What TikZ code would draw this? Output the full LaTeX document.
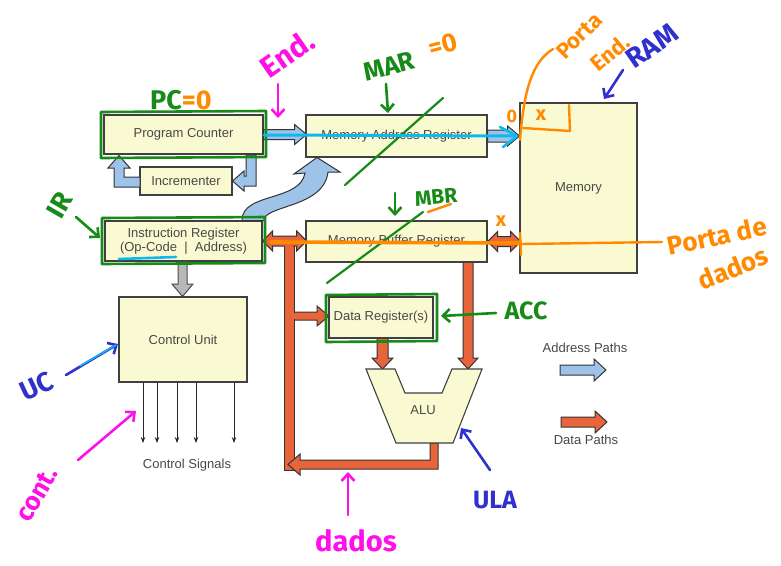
\documentclass[tikz,border=0pt]{standalone}
\usepackage{fontspec}
\setmainfont{Liberation Sans}
\newfontfamily\handfont{Fira Sans}
\usetikzlibrary{arrows.meta,calc}
\definecolor{boxfill}{HTML}{FAFAD2}
\definecolor{addrblue}{HTML}{9DC4E8}
\definecolor{dataorange}{HTML}{E8643A}
\definecolor{txtgray}{HTML}{484848}
\definecolor{agreen}{HTML}{178A17}
\definecolor{aorange}{HTML}{FF8A00}
\definecolor{amag}{HTML}{FF10E8}
\definecolor{ablue}{HTML}{3030CC}
\definecolor{acyan}{HTML}{10B8F0}
\newcommand\hsz[1]{\handfont\bfseries\fontsize{#1}{#1}\selectfont}
\begin{document}
\begin{tikzpicture}[x=1pt,y=-1pt,
  blk/.style={draw=black!75,fill=boxfill,line width=1.1pt,text=txtgray,font=\fontsize{13}{14.5}\selectfont,inner sep=0pt},
  lbl/.style={text=txtgray,font=\fontsize{13}{14.5}\selectfont,inner sep=0pt},
  fatA/.style={draw=black!80,fill=addrblue,line width=1pt,line join=miter},
  fatD/.style={draw=black!80,fill=dataorange,line width=1pt,line join=miter},
  fatG/.style={draw=black!70,fill=black!28,line width=1pt,line join=miter},
  sig/.style={draw=black!85,line width=0.8pt,-{Stealth[length=6pt,width=4.5pt]}},
  hl/.style={line width=2.6pt,line cap=round,line join=round},
  harr/.style={hl,-{Straight Barb[length=7pt,width=13pt]}},
]
\useasboundingbox (0,0) rectangle (781,565);
\fill[white] (0,0) rectangle (781,565);

% ---------- data bus (drawn underneath) ----------
\filldraw[fatD] (289,312) -- (317,312) -- (317,306) -- (329,316) -- (317,326) -- (317,320) -- (289,320) -- cycle;
\filldraw[fatD] (284,241) rectangle (294,470);
\fill[dataorange] (293,312.6) rectangle (295.3,319.4);
\filldraw[fatD] (430,443) -- (438,443) -- (438,469) -- (300,469) -- (300,475) -- (288,464.5) -- (300,454) -- (300,460) -- (430,460) -- cycle;
\filldraw[fatD] (463,262) -- (463,358) -- (458,358) -- (468,369) -- (478,358) -- (473,358) -- (473,262) -- cycle;
\filldraw[fatD] (377,338) -- (377,358) -- (372,358) -- (382.5,369) -- (393,358) -- (388,358) -- (388,338) -- cycle;

% ---------- boxes ----------
\node[blk,minimum width=159,minimum height=39] (pc) at (183.5,134.5) {Program Counter};
\node[blk,minimum width=92,minimum height=28] (inc) at (186,181) {Incrementer};
\node[blk,minimum width=157,minimum height=40,align=center] (ir) at (183.5,241) {Instruction Register\\(Op-Code \;|\; Address)};
\node[blk,minimum width=181,minimum height=42] (mar) at (396.5,136) {Memory Address Register};
\node[blk,minimum width=181,minimum height=41] (mbr) at (396.5,241.5) {Memory Buffer Register};
\node[blk,minimum width=117,minimum height=170] (mem) at (578.5,188) {Memory};
\node[blk,minimum width=128,minimum height=85] (cu) at (183,339.5) {Control Unit};
\node[blk,minimum width=104,minimum height=41] (dr) at (381,317.5) {Data Register(s)};
\filldraw[draw=black!75,fill=boxfill,line width=1.1pt,line join=miter] (366,369) -- (395,369) -- (405,393) -- (442,393) -- (452,369) -- (482,369) -- (453,443) -- (396,443) -- cycle;
\node[lbl] (alu) at (423,410) {ALU};

% ---------- address paths ----------
\filldraw[fatA] (pc.east) ++(0,-5) -- ++(31,0) -- ++(0,-5) -- ++(12,10) -- ++(-12,10) -- ++(0,-5) -- ++(-31,0) -- cycle;
\filldraw[fatA] (mar.east) ++(0,-6) -- ++(20,0) -- ++(0,-4) -- ++(12,10) -- ++(-12,10) -- ++(0,-4) -- ++(-20,0) -- cycle;
\filldraw[fatA] (140,177) -- (124,177) -- (124,168) -- (130,168) -- (119,155.5) -- (108,168) -- (114,168) -- (114,187) -- (140,187) -- cycle;
\filldraw[fatA] (246,155) -- (256,155) -- (256,186) -- (244,186) -- (244,191) -- (232.5,181) -- (244,171) -- (244,176) -- (246,176) -- cycle;
\filldraw[fatA] (242,220.5) .. controls (242,192) and (300,202) .. (305,173) -- (294,174) -- (317,157.5) -- (340,172) -- (328,172) .. controls (324,208) and (264,205) .. (264,220.5) -- cycle;
\filldraw[fatG] (178,261.5) -- (178,284) -- (172,284) -- (182.5,296.5) -- (193,284) -- (187,284) -- (187,261.5) -- cycle;

% ---------- data double arrows ----------
\filldraw[fatD] (ir.east) -- ++(10,-10) -- ++(0,5) -- ++(24,0) -- ++(0,-5) -- ++(10,10) -- ++(-10,10) -- ++(0,-5) -- ++(-24,0) -- ++(0,5) -- cycle;
\fill[dataorange] (284.6,245) rectangle (293.4,247.5);
\filldraw[fatD] (mbr.east) -- ++(10,-10) -- ++(0,5) -- ++(13,0) -- ++(0,-5) -- ++(10,10) -- ++(-10,10) -- ++(0,-5) -- ++(-13,0) -- ++(0,5) -- cycle;

% ---------- control signals ----------
\foreach \xx in {143,157,177,196,234} \draw[sig] (cu.south -| \xx,0) -- (\xx,443);
\node[lbl] (cs) at (187,465) {Control Signals};

% ---------- legend ----------
\node[lbl] (lga) at (585,348) {Address Paths};
\filldraw[fatA] (560,365) -- (594,365) -- (594,359) -- (606,370) -- (594,381) -- (594,375) -- (560,375) -- cycle;
\filldraw[fatD] (561,417) -- (595,417) -- (595,411) -- (607,422) -- (595,433) -- (595,427) -- (561,427) -- cycle;
\node[lbl] (lgd) at (586,440) {Data Paths};

% ---------- annotations ----------
% PC
\draw[agreen,hl] (101,112) -- (266,111) -- (266,157) -- (101,158) -- cycle;
\node[inner sep=0pt] (apc) at (181,100) {\hsz{27}\color{agreen}PC\color{aorange}=0};
% End.
\node[amag,rotate=35,inner sep=0pt] (aend) at (287,54) {\hsz{30}End.};
\draw[amag,harr] (278,84) -- (278,118);
% MAR
\node[agreen,rotate=15,inner sep=0pt] (amar) at (389,66) {\hsz{26}MAR};
\node[aorange,rotate=15,inner sep=0pt] (amar0) at (443,45) {\hsz{26}=0};
\draw[agreen,harr] (386,84) -- (388,113);
\draw[agreen,line width=2.2pt,line cap=round] (443,98) -- (345,185);
% cyan address line
\draw[acyan,line width=3pt,line cap=round] (264,135) -- (514,136);
\draw[acyan,line width=2.6pt,line cap=round,line join=round] (500,127) -- (517,136) -- (503,147);
% Porta End.
\draw[aorange,line width=2.4pt,line cap=round] (520,140) .. controls (524,90) and (532,62) .. (553,49);
\draw[aorange,line width=2.4pt,line cap=round,line join=round] (523,128) -- (570,131) -- (569,105);
\node[aorange,inner sep=0pt] (ao) at (512,116) {\hsz{18}0};
\node[aorange,inner sep=0pt] (ax) at (541,115) {\hsz{20}x};
\node[aorange,rotate=45,inner sep=0pt] (aporta) at (579,36) {\hsz{22}Porta};
\node[aorange,rotate=40,inner sep=0pt] (aend2) at (610,53) {\hsz{22}End.};
% RAM
\node[ablue,rotate=35,inner sep=0pt] (aram) at (652,46) {\hsz{28}RAM};
\draw[ablue,harr] (623,70) -- (604,99);
% IR
\node[agreen,rotate=60,inner sep=0pt] (air) at (60,205) {\hsz{27}IR};
\draw[agreen,harr] (76,217) -- (100,238);
\draw[agreen,hl] (102,218) -- (265,217) -- (265,263) -- (102,264) -- cycle;
\draw[acyan,line width=2.6pt,line cap=round] (119,259) -- (176,257);
% MBR
\draw[agreen,harr] (395,193) -- (395,216);
\node[agreen,rotate=5,inner sep=0pt] (ambr) at (436,197) {\hsz{21}MBR};
\draw[aorange,line width=2.4pt,line cap=round] (428,212) -- (451,204);
\draw[agreen,line width=2.2pt,line cap=round] (423,212) -- (327,283);
\draw[aorange,line width=3.6pt,line cap=round] (271,242) -- (519,243);
\node[aorange,inner sep=0pt] (ax2) at (501,221) {\hsz{20}x};
\draw[aorange,line width=2.4pt,line cap=round] (520,233) -- (521,255);
\draw[aorange,line width=2.4pt,line cap=round] (521,244) -- (662,242);
\node[aorange,rotate=12,inner sep=0pt] (apd1) at (717,236) {\hsz{26}Porta de};
\node[aorange,rotate=22,inner sep=0pt] (apd2) at (733,268) {\hsz{26}dados};
% ACC
\draw[agreen,hl] (326,295) -- (437,294) -- (437,341) -- (326,342) -- cycle;
\node[agreen,inner sep=0pt] (aacc) at (526,311) {\hsz{25}ACC};
\draw[agreen,harr] (496,313) -- (441,316);
% UC
\node[ablue,rotate=25,inner sep=0pt] (auc) at (37,386) {\hsz{27}UC};
\draw[ablue,harr] (66,375) -- (118,344);
\draw[acyan,line width=1.6pt,line cap=round] (80,366) -- (116,345);
% cont.
\node[amag,rotate=60,inner sep=0pt] (acont) at (37,494) {\hsz{26}cont.};
\draw[amag,harr] (78,460) -- (136,411);
% dados
\node[amag,inner sep=0pt] (adados) at (356,541) {\hsz{29}dados};
\draw[amag,harr] (348,515) -- (348,472);
% ULA
\node[ablue,inner sep=0pt] (aula) at (495,500) {\hsz{25}ULA};
\draw[ablue,harr] (490,470) -- (461,428);
\end{tikzpicture}
\end{document}
